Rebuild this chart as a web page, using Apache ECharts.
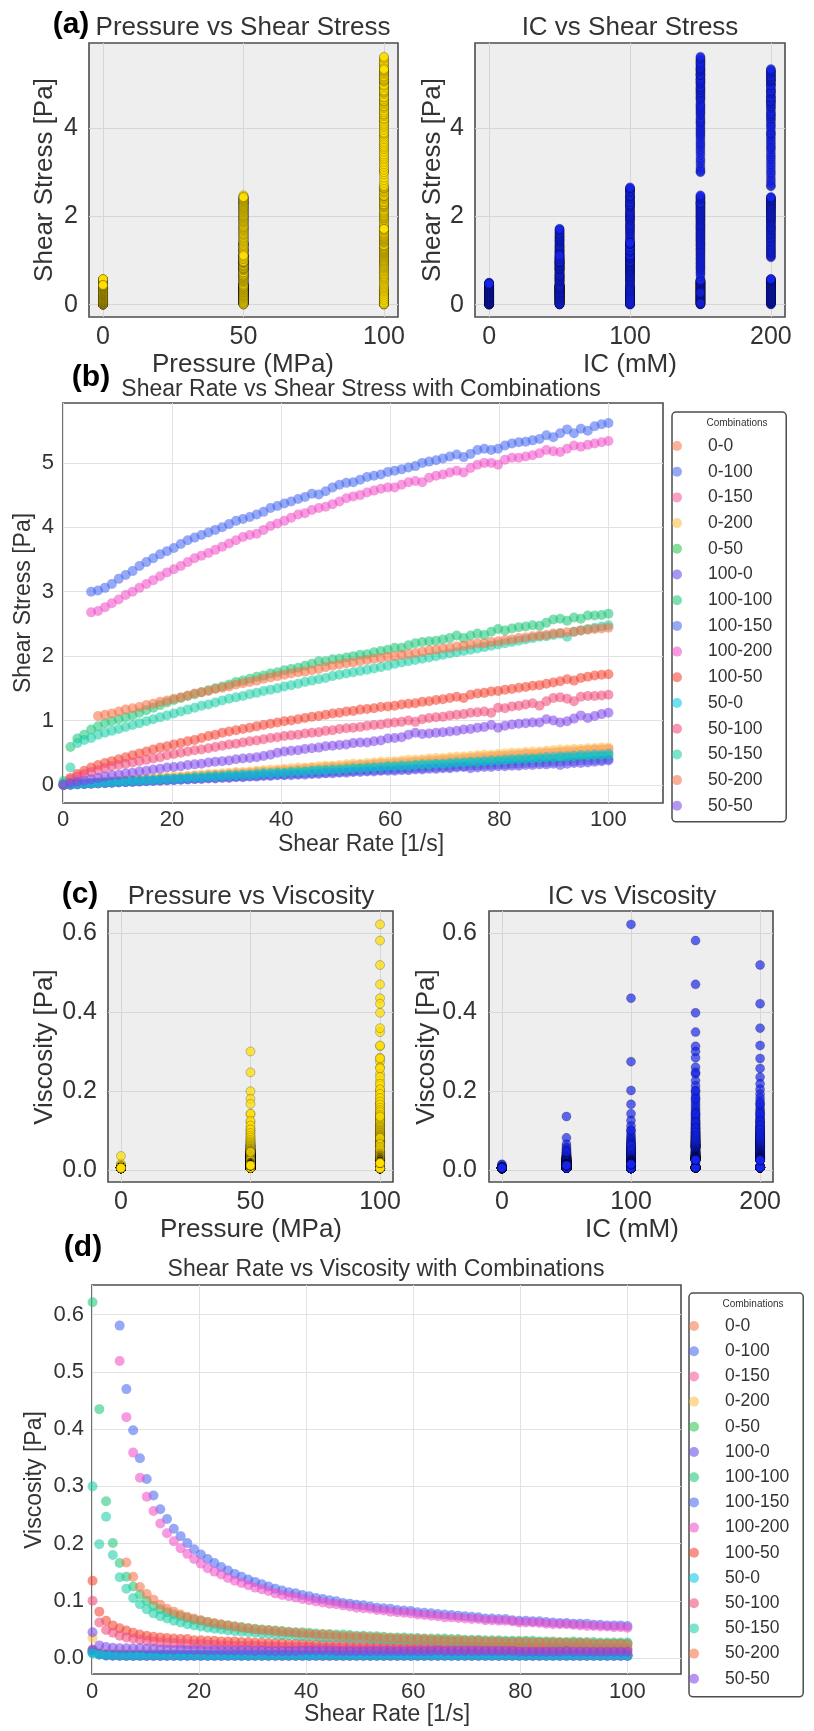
<!DOCTYPE html>
<html><head><meta charset="utf-8">
<script src="https://cdn.jsdelivr.net/npm/echarts@6/dist/echarts.min.js"></script>
<style>html,body{margin:0;padding:0;background:#fff}#c{width:814px;height:1731px}</style>
</head><body><div id="c"></div>
<script>
// ---------------- DATA ----------------
const combos = ['0-0','0-100','0-150','0-200','0-50','100-0','100-100','100-150','100-200','100-50','50-0','50-100','50-150','50-200','50-50'];
const pressureOf = [0,0,0,0,0,100,100,100,100,100,50,50,50,50,50];
const icOf = [0,100,150,200,50,0,100,150,200,50,0,100,150,200,50];
const shearRate = [
0.10,1.36,2.63,3.89,5.16,6.42,7.69,8.95,10.22,11.48,
12.75,14.01,15.28,16.54,17.80,19.07,20.33,21.60,22.86,24.13,
25.39,26.66,27.92,29.19,30.45,31.72,32.98,34.24,35.51,36.77,
38.04,39.30,40.57,41.83,43.10,44.36,45.63,46.89,48.15,49.42,
50.68,51.95,53.21,54.48,55.74,57.01,58.27,59.54,60.80,62.07,
63.33,64.59,65.86,67.12,68.39,69.65,70.92,72.18,73.45,74.71,
75.98,77.24,78.51,79.77,81.03,82.30,83.56,84.83,86.09,87.36,
88.62,89.89,91.15,92.42,93.68,94.94,96.21,97.47,98.74,100.00];
const xTicksP = [0,50,100];
const xTicksIC = [0,100,200];
const yTicksStressSmall = [0,2,4];
const yTicksVisSmall = [0,0.2,0.4,0.6];
const xTicksRate = [0,20,40,60,80,100];
const yTicksStress = [0,1,2,3,4,5];
const yTicksVis = [0,0.1,0.2,0.3,0.4,0.5,0.6];

// Shear stress [Pa]
const stress_0_0 = [
0.001,0.007,0.013,0.019,0.026,0.032,0.038,0.045,0.051,0.057,
0.064,0.070,0.076,0.083,0.089,0.095,0.10,0.11,0.11,0.12,
0.13,0.13,0.14,0.15,0.15,0.16,0.16,0.17,0.18,0.18,
0.19,0.20,0.20,0.21,0.22,0.22,0.23,0.23,0.24,0.25,
0.25,0.26,0.27,0.27,0.28,0.29,0.29,0.30,0.30,0.31,
0.32,0.32,0.33,0.34,0.34,0.35,0.35,0.36,0.37,0.37,
0.38,0.39,0.39,0.40,0.41,0.41,0.42,0.42,0.43,0.44,
0.44,0.45,0.46,0.46,0.47,0.47,0.48,0.49,0.49,0.50];
const stress_0_100 = [
0.001,0.005,0.011,0.016,0.021,0.026,0.031,0.036,0.041,0.046,
0.051,0.056,0.061,0.066,0.071,0.076,0.081,0.086,0.091,0.097,
0.10,0.11,0.11,0.12,0.12,0.13,0.13,0.14,0.14,0.15,
0.15,0.16,0.16,0.17,0.17,0.18,0.18,0.19,0.19,0.20,
0.20,0.21,0.21,0.22,0.22,0.23,0.23,0.24,0.24,0.25,
0.25,0.26,0.26,0.27,0.27,0.28,0.28,0.29,0.29,0.30,
0.30,0.31,0.31,0.32,0.32,0.33,0.33,0.34,0.34,0.35,
0.35,0.36,0.36,0.37,0.37,0.38,0.38,0.39,0.39,0.40];
const stress_0_150 = [
0.002,0.008,0.015,0.022,0.029,0.036,0.043,0.050,0.057,0.064,
0.071,0.078,0.086,0.093,0.10,0.11,0.11,0.12,0.13,0.14,
0.14,0.15,0.16,0.16,0.17,0.18,0.18,0.19,0.20,0.21,
0.21,0.22,0.23,0.23,0.24,0.25,0.26,0.26,0.27,0.28,
0.28,0.29,0.30,0.31,0.31,0.32,0.33,0.33,0.34,0.35,
0.35,0.36,0.37,0.38,0.38,0.39,0.40,0.40,0.41,0.42,
0.43,0.43,0.44,0.45,0.45,0.46,0.47,0.48,0.48,0.49,
0.50,0.50,0.51,0.52,0.52,0.53,0.54,0.55,0.55,0.56];
const stress_0_200 = [
0.004,0.012,0.020,0.028,0.035,0.043,0.050,0.058,0.066,0.073,
0.080,0.088,0.095,0.10,0.11,0.12,0.13,0.13,0.14,0.15,
0.16,0.17,0.17,0.18,0.19,0.20,0.20,0.21,0.22,0.23,
0.24,0.24,0.25,0.26,0.27,0.27,0.28,0.29,0.30,0.30,
0.31,0.32,0.33,0.33,0.34,0.35,0.36,0.36,0.37,0.38,
0.39,0.39,0.40,0.41,0.42,0.42,0.43,0.44,0.44,0.45,
0.46,0.47,0.47,0.48,0.49,0.50,0.50,0.51,0.52,0.52,
0.53,0.54,0.55,0.55,0.56,0.56,0.57,0.57,0.58,0.58];
const stress_0_50 = [
0.001,0.006,0.012,0.018,0.023,0.029,0.035,0.040,0.046,0.052,
0.057,0.063,0.069,0.074,0.080,0.086,0.091,0.097,0.10,0.11,
0.11,0.12,0.13,0.13,0.14,0.14,0.15,0.15,0.16,0.17,
0.17,0.18,0.18,0.19,0.19,0.20,0.21,0.21,0.22,0.22,
0.23,0.23,0.24,0.25,0.25,0.26,0.26,0.27,0.27,0.28,
0.28,0.29,0.30,0.30,0.31,0.31,0.32,0.32,0.33,0.34,
0.34,0.35,0.35,0.36,0.36,0.37,0.38,0.38,0.39,0.39,
0.40,0.40,0.41,0.42,0.42,0.43,0.43,0.44,0.44,0.45];
const stress_100_0 = [
0.001,0.005,0.010,0.014,0.019,0.024,0.028,0.033,0.038,0.042,
0.047,0.052,0.057,0.061,0.066,0.071,0.075,0.080,0.085,0.089,
0.094,0.099,0.10,0.11,0.11,0.12,0.12,0.13,0.13,0.14,
0.14,0.15,0.15,0.15,0.16,0.16,0.17,0.17,0.18,0.18,
0.19,0.19,0.20,0.20,0.21,0.21,0.22,0.22,0.22,0.23,
0.23,0.24,0.24,0.25,0.25,0.26,0.26,0.27,0.28,0.26,
0.27,0.28,0.28,0.29,0.29,0.30,0.30,0.31,0.31,0.32,
0.32,0.33,0.31,0.33,0.34,0.34,0.35,0.36,0.37,0.38];
const stress_100_100 = [
0.06,0.59,0.72,0.78,0.86,0.91,0.96,0.99,1.02,1.05,
1.08,1.12,1.16,1.20,1.24,1.28,1.32,1.35,1.38,1.41,
1.44,1.47,1.50,1.53,1.56,1.60,1.62,1.65,1.68,1.70,
1.73,1.75,1.78,1.80,1.82,1.85,1.88,1.92,1.92,1.95,
1.96,1.98,2.00,2.02,2.03,2.06,2.08,2.10,2.13,2.13,
2.17,2.20,2.22,2.23,2.24,2.26,2.28,2.32,2.28,2.32,
2.35,2.33,2.38,2.42,2.40,2.43,2.45,2.46,2.48,2.47,
2.52,2.57,2.58,2.55,2.60,2.58,2.63,2.63,2.64,2.66];
const stress_100_150 = [
null,null,null,null,3.00,3.02,3.06,3.12,3.20,3.26,
3.32,3.40,3.46,3.52,3.58,3.63,3.68,3.74,3.80,3.84,
3.88,3.92,3.96,4.00,4.05,4.10,4.13,4.16,4.20,4.24,
4.30,4.33,4.37,4.40,4.44,4.47,4.52,4.51,4.56,4.62,
4.66,4.69,4.70,4.74,4.78,4.80,4.82,4.86,4.88,4.90,
4.93,4.95,5.00,5.02,5.04,5.07,5.10,5.13,5.09,5.14,
5.20,5.22,5.20,5.22,5.27,5.30,5.32,5.33,5.35,5.37,
5.43,5.40,5.46,5.52,5.46,5.53,5.50,5.57,5.60,5.62];
const stress_100_200 = [
null,null,null,null,2.68,2.70,2.76,2.82,2.88,2.95,
3.00,3.06,3.12,3.18,3.24,3.30,3.35,3.40,3.46,3.52,
3.56,3.60,3.65,3.70,3.75,3.80,3.85,3.88,3.90,3.96,
4.02,4.06,4.10,4.15,4.20,4.22,4.27,4.30,4.32,4.36,
4.40,4.45,4.48,4.50,4.54,4.57,4.60,4.62,4.62,4.66,
4.70,4.72,4.70,4.77,4.80,4.82,4.85,4.88,4.85,4.92,
4.97,5.00,5.00,4.97,5.05,5.08,5.08,5.10,5.12,5.15,
5.20,5.18,5.17,5.22,5.27,5.25,5.28,5.30,5.32,5.34];
const stress_100_50 = [
0.01,0.11,0.17,0.22,0.27,0.31,0.34,0.37,0.40,0.43,
0.46,0.49,0.52,0.55,0.58,0.60,0.63,0.65,0.68,0.70,
0.73,0.76,0.78,0.81,0.83,0.85,0.87,0.89,0.91,0.93,
0.95,0.97,0.99,1.00,1.02,1.04,1.06,1.07,1.09,1.11,
1.12,1.14,1.15,1.17,1.18,1.19,1.21,1.22,1.23,1.25,
1.26,1.27,1.29,1.30,1.32,1.33,1.35,1.37,1.35,1.40,
1.42,1.43,1.45,1.46,1.48,1.49,1.51,1.52,1.54,1.55,
1.57,1.59,1.61,1.64,1.62,1.66,1.68,1.70,1.71,1.72];
const stress_50_0 = [
0.001,0.007,0.013,0.019,0.025,0.031,0.037,0.043,0.049,0.055,
0.061,0.067,0.073,0.079,0.085,0.092,0.098,0.10,0.11,0.12,
0.12,0.13,0.13,0.14,0.15,0.15,0.16,0.16,0.17,0.18,
0.18,0.19,0.19,0.20,0.21,0.21,0.22,0.23,0.23,0.24,
0.24,0.25,0.26,0.26,0.27,0.27,0.28,0.29,0.29,0.30,
0.30,0.31,0.32,0.32,0.33,0.33,0.34,0.35,0.35,0.36,
0.36,0.37,0.38,0.38,0.39,0.40,0.40,0.41,0.41,0.42,
0.43,0.43,0.44,0.44,0.45,0.46,0.46,0.47,0.47,0.48];
const stress_50_100 = [
0.01,0.085,0.13,0.17,0.20,0.23,0.26,0.29,0.31,0.33,
0.35,0.37,0.39,0.41,0.43,0.46,0.48,0.50,0.52,0.54,
0.55,0.57,0.59,0.61,0.63,0.64,0.66,0.68,0.69,0.71,
0.73,0.74,0.76,0.77,0.78,0.80,0.81,0.82,0.84,0.85,
0.87,0.88,0.89,0.90,0.92,0.93,0.94,0.96,0.97,0.98,
1.00,0.98,1.02,1.04,1.05,1.06,1.08,1.09,1.10,1.12,
1.13,1.14,1.12,1.20,1.19,1.22,1.23,1.25,1.27,1.23,
1.30,1.35,1.36,1.34,1.30,1.37,1.38,1.38,1.39,1.40];
const stress_50_150 = [
0.03,0.27,0.65,0.70,0.73,0.78,0.81,0.84,0.87,0.90,
0.93,0.96,0.99,1.02,1.05,1.08,1.11,1.14,1.17,1.20,
1.23,1.25,1.28,1.31,1.34,1.36,1.38,1.41,1.43,1.46,
1.48,1.50,1.53,1.55,1.57,1.60,1.62,1.64,1.66,1.69,
1.71,1.73,1.75,1.77,1.79,1.81,1.83,1.85,1.88,1.90,
1.92,1.94,1.96,1.98,2.00,2.02,2.04,2.06,2.08,2.10,
2.12,2.14,2.16,2.18,2.20,2.22,2.24,2.26,2.28,2.30,
2.31,2.33,2.35,2.30,2.38,2.40,2.42,2.44,2.46,2.48];
const stress_50_200 = [
null,null,null,null,null,1.07,1.09,1.11,1.14,1.17,
1.19,1.21,1.24,1.26,1.29,1.31,1.34,1.36,1.39,1.42,
1.44,1.46,1.49,1.51,1.53,1.56,1.58,1.60,1.62,1.65,
1.67,1.69,1.71,1.73,1.75,1.76,1.78,1.80,1.83,1.85,
1.87,1.89,1.90,1.92,1.94,1.96,1.97,1.99,2.00,2.02,
2.03,2.05,2.07,2.09,2.10,2.12,2.13,2.15,2.16,2.18,
2.20,2.20,2.22,2.23,2.25,2.26,2.28,2.29,2.31,2.32,
2.33,2.35,2.36,2.37,2.38,2.40,2.41,2.42,2.43,2.44];
const stress_50_50 = [
0.005,0.03,0.05,0.07,0.09,0.11,0.13,0.15,0.16,0.18,
0.19,0.21,0.22,0.24,0.25,0.27,0.28,0.29,0.31,0.32,
0.33,0.35,0.36,0.37,0.38,0.40,0.41,0.42,0.43,0.45,
0.47,0.50,0.52,0.53,0.54,0.56,0.57,0.58,0.60,0.61,
0.62,0.63,0.65,0.66,0.66,0.68,0.69,0.72,0.73,0.74,
0.78,0.81,0.79,0.80,0.81,0.82,0.83,0.84,0.86,0.87,
0.89,0.90,0.93,0.89,0.92,0.94,0.95,0.96,0.97,0.97,
1.02,1.00,0.97,0.99,1.03,1.08,1.04,1.07,1.10,1.12];

// Viscosity [Pa.s]
const visc_0_0 = [
0.012,0.007,0.006,0.0055,0.0052,0.0051,0.0050,0.0050,0.0050,0.0050,
0.0050,0.0050,0.0050,0.0050,0.0050,0.0050,0.0050,0.0050,0.0050,0.0050,
0.0050,0.0050,0.0050,0.0050,0.0050,0.0050,0.0050,0.0050,0.0050,0.0050,
0.0050,0.0050,0.0050,0.0050,0.0050,0.0050,0.0050,0.0050,0.0050,0.0050,
0.0050,0.0050,0.0050,0.0050,0.0050,0.0050,0.0050,0.0050,0.0050,0.0050,
0.0050,0.0050,0.0050,0.0050,0.0050,0.0050,0.0050,0.0050,0.0050,0.0050,
0.0050,0.0050,0.0050,0.0050,0.0050,0.0050,0.0050,0.0050,0.0050,0.0050,
0.0050,0.0050,0.0050,0.0050,0.0050,0.0050,0.0050,0.0050,0.0050,0.0050];
const visc_0_100 = [
0.009,0.006,0.0045,0.0042,0.0041,0.0040,0.0040,0.0040,0.0040,0.0040,
0.0040,0.0040,0.0040,0.0040,0.0040,0.0040,0.0040,0.0040,0.0040,0.0040,
0.0040,0.0040,0.0040,0.0040,0.0040,0.0040,0.0040,0.0040,0.0040,0.0040,
0.0040,0.0040,0.0040,0.0040,0.0040,0.0040,0.0040,0.0040,0.0040,0.0040,
0.0040,0.0040,0.0040,0.0040,0.0040,0.0040,0.0040,0.0040,0.0040,0.0040,
0.0040,0.0040,0.0040,0.0040,0.0040,0.0040,0.0040,0.0040,0.0040,0.0040,
0.0040,0.0040,0.0040,0.0040,0.0040,0.0040,0.0040,0.0040,0.0040,0.0040,
0.0040,0.0040,0.0040,0.0040,0.0040,0.0040,0.0040,0.0040,0.0040,0.0040];
const visc_0_150 = [
0.015,0.008,0.0065,0.0060,0.0058,0.0057,0.0057,0.0056,0.0056,0.0056,
0.0056,0.0056,0.0056,0.0056,0.0056,0.0056,0.0056,0.0056,0.0056,0.0056,
0.0056,0.0056,0.0056,0.0056,0.0056,0.0056,0.0056,0.0056,0.0056,0.0056,
0.0056,0.0056,0.0056,0.0056,0.0056,0.0056,0.0056,0.0056,0.0056,0.0056,
0.0056,0.0056,0.0056,0.0056,0.0056,0.0056,0.0056,0.0056,0.0056,0.0056,
0.0056,0.0056,0.0056,0.0056,0.0056,0.0056,0.0056,0.0056,0.0056,0.0056,
0.0056,0.0056,0.0056,0.0056,0.0056,0.0056,0.0056,0.0056,0.0056,0.0056,
0.0056,0.0056,0.0056,0.0056,0.0056,0.0056,0.0056,0.0056,0.0056,0.0056];
const visc_0_200 = [
0.035,0.009,0.0076,0.0072,0.0068,0.0067,0.0065,0.0065,0.0065,0.0064,
0.0063,0.0063,0.0062,0.0062,0.0062,0.0062,0.0062,0.0061,0.0061,0.0061,
0.0061,0.0061,0.0061,0.0061,0.0061,0.0061,0.0061,0.0061,0.0061,0.0061,
0.0060,0.0060,0.0060,0.0060,0.0060,0.0060,0.0060,0.0060,0.0060,0.0060,
0.0060,0.0060,0.0060,0.0060,0.0060,0.0060,0.0060,0.0060,0.0060,0.0060,
0.0059,0.0059,0.0059,0.0059,0.0059,0.0059,0.0059,0.0059,0.0059,0.0059,
0.0059,0.0059,0.0059,0.0059,0.0059,0.0059,0.0059,0.0059,0.0059,0.0059,
0.0058,0.0058,0.0058,0.0058,0.0058,0.0058,0.0058,0.0058,0.0058,0.0058];
const visc_0_50 = [
0.010,0.006,0.0050,0.0047,0.0046,0.0045,0.0045,0.0045,0.0045,0.0045,
0.0045,0.0045,0.0045,0.0045,0.0045,0.0045,0.0045,0.0045,0.0045,0.0045,
0.0045,0.0045,0.0045,0.0045,0.0045,0.0045,0.0045,0.0045,0.0045,0.0045,
0.0045,0.0045,0.0045,0.0045,0.0045,0.0045,0.0045,0.0045,0.0045,0.0045,
0.0045,0.0045,0.0045,0.0045,0.0045,0.0045,0.0045,0.0045,0.0045,0.0045,
0.0045,0.0045,0.0045,0.0045,0.0045,0.0045,0.0045,0.0045,0.0045,0.0045,
0.0045,0.0045,0.0045,0.0045,0.0045,0.0045,0.0045,0.0045,0.0045,0.0045,
0.0045,0.0045,0.0045,0.0045,0.0045,0.0045,0.0045,0.0045,0.0045,0.0045];
const visc_100_0 = [
0.014,0.007,0.0045,0.0040,0.0038,0.0037,0.0037,0.0037,0.0037,0.0037,
0.0037,0.0037,0.0037,0.0037,0.0037,0.0037,0.0037,0.0037,0.0037,0.0037,
0.0037,0.0037,0.0037,0.0037,0.0037,0.0037,0.0037,0.0037,0.0037,0.0037,
0.0037,0.0037,0.0037,0.0037,0.0037,0.0037,0.0037,0.0037,0.0037,0.0037,
0.0037,0.0037,0.0037,0.0037,0.0037,0.0037,0.0037,0.0037,0.0037,0.0037,
0.0037,0.0037,0.0037,0.0037,0.0037,0.0037,0.0037,0.0037,0.0037,0.0037,
0.0037,0.0037,0.0037,0.0037,0.0037,0.0037,0.0037,0.0037,0.0037,0.0037,
0.0037,0.0037,0.0037,0.0037,0.0037,0.0037,0.0037,0.0037,0.0037,0.0037];
const visc_100_100 = [
0.622,0.435,0.274,0.201,0.166,0.142,0.125,0.111,0.100,0.091,
0.085,0.080,0.076,0.073,0.070,0.067,0.065,0.063,0.060,0.058,
0.057,0.055,0.054,0.052,0.051,0.050,0.049,0.048,0.047,0.046,
0.045,0.045,0.044,0.043,0.042,0.042,0.041,0.041,0.040,0.039,
0.039,0.038,0.038,0.037,0.036,0.036,0.036,0.035,0.035,0.034,
0.034,0.034,0.034,0.033,0.033,0.032,0.032,0.032,0.031,0.031,
0.031,0.030,0.030,0.030,0.030,0.030,0.029,0.029,0.029,0.028,
0.028,0.029,0.028,0.028,0.028,0.027,0.027,0.027,0.027,0.027];
const visc_100_150 = [
null,null,null,null,0.581,0.470,0.398,0.349,0.313,0.284,
0.260,0.243,0.226,0.213,0.201,0.190,0.181,0.173,0.166,0.159,
0.153,0.147,0.142,0.137,0.133,0.129,0.125,0.121,0.118,0.115,
0.113,0.110,0.108,0.105,0.103,0.101,0.099,0.096,0.095,0.093,
0.092,0.090,0.088,0.087,0.086,0.084,0.083,0.082,0.080,0.079,
0.078,0.077,0.076,0.075,0.074,0.073,0.072,0.071,0.069,0.069,
0.068,0.068,0.066,0.065,0.065,0.064,0.064,0.063,0.062,0.061,
0.061,0.060,0.060,0.060,0.058,0.058,0.057,0.057,0.057,0.056];
const visc_100_200 = [
null,null,null,null,0.519,0.421,0.359,0.315,0.282,0.257,
0.235,0.218,0.204,0.192,0.182,0.173,0.165,0.157,0.151,0.146,
0.140,0.135,0.131,0.127,0.123,0.120,0.117,0.113,0.110,0.108,
0.106,0.103,0.101,0.099,0.097,0.095,0.094,0.092,0.090,0.088,
0.087,0.086,0.084,0.083,0.081,0.080,0.079,0.078,0.076,0.075,
0.074,0.073,0.071,0.071,0.070,0.069,0.068,0.068,0.066,0.066,
0.065,0.065,0.064,0.062,0.062,0.062,0.061,0.060,0.059,0.059,
0.059,0.058,0.057,0.056,0.056,0.055,0.055,0.054,0.054,0.053];
const visc_100_50 = [
0.135,0.081,0.065,0.057,0.052,0.048,0.044,0.041,0.039,0.037,
0.036,0.035,0.034,0.033,0.033,0.031,0.031,0.030,0.030,0.029,
0.029,0.029,0.028,0.028,0.027,0.027,0.026,0.026,0.026,0.025,
0.025,0.025,0.024,0.024,0.024,0.023,0.023,0.023,0.023,0.022,
0.022,0.022,0.022,0.021,0.021,0.021,0.021,0.020,0.020,0.020,
0.020,0.020,0.020,0.019,0.019,0.019,0.019,0.019,0.018,0.019,
0.019,0.019,0.018,0.018,0.018,0.018,0.018,0.018,0.018,0.018,
0.018,0.018,0.018,0.018,0.017,0.017,0.017,0.017,0.017,0.017];
const visc_50_0 = [
0.008,0.006,0.0052,0.0050,0.0049,0.0048,0.0048,0.0048,0.0048,0.0048,
0.0048,0.0048,0.0048,0.0048,0.0048,0.0048,0.0048,0.0048,0.0048,0.0048,
0.0048,0.0048,0.0048,0.0048,0.0048,0.0048,0.0048,0.0048,0.0048,0.0048,
0.0048,0.0048,0.0048,0.0048,0.0048,0.0048,0.0048,0.0048,0.0048,0.0048,
0.0048,0.0048,0.0048,0.0048,0.0048,0.0048,0.0048,0.0048,0.0048,0.0048,
0.0048,0.0048,0.0048,0.0048,0.0048,0.0048,0.0048,0.0048,0.0048,0.0048,
0.0048,0.0048,0.0048,0.0048,0.0048,0.0048,0.0048,0.0048,0.0048,0.0048,
0.0048,0.0048,0.0048,0.0048,0.0048,0.0048,0.0048,0.0048,0.0048,0.0048];
const visc_50_100 = [
0.100,0.062,0.049,0.044,0.039,0.036,0.034,0.032,0.030,0.029,
0.027,0.026,0.026,0.025,0.024,0.024,0.024,0.023,0.023,0.022,
0.022,0.021,0.021,0.021,0.021,0.020,0.020,0.020,0.019,0.019,
0.019,0.019,0.019,0.018,0.018,0.018,0.018,0.017,0.017,0.017,
0.017,0.017,0.017,0.017,0.017,0.016,0.016,0.016,0.016,0.016,
0.016,0.015,0.015,0.015,0.015,0.015,0.015,0.015,0.015,0.015,
0.015,0.015,0.014,0.015,0.015,0.015,0.015,0.015,0.015,0.014,
0.015,0.015,0.015,0.014,0.014,0.014,0.014,0.014,0.014,0.014];
const visc_50_150 = [
0.300,0.199,0.247,0.180,0.141,0.121,0.105,0.094,0.085,0.078,
0.073,0.069,0.065,0.062,0.059,0.057,0.055,0.053,0.051,0.050,
0.048,0.047,0.046,0.045,0.044,0.043,0.042,0.041,0.040,0.040,
0.039,0.038,0.038,0.037,0.036,0.036,0.036,0.035,0.034,0.034,
0.034,0.033,0.033,0.032,0.032,0.032,0.031,0.031,0.031,0.031,
0.030,0.030,0.030,0.029,0.029,0.029,0.029,0.029,0.028,0.028,
0.028,0.028,0.028,0.027,0.027,0.027,0.027,0.027,0.026,0.026,
0.026,0.026,0.026,0.025,0.025,0.025,0.025,0.025,0.025,0.025];
const visc_50_200 = [
null,null,null,null,null,0.167,0.142,0.124,0.112,0.102,
0.093,0.086,0.081,0.076,0.072,0.069,0.066,0.063,0.061,0.059,
0.057,0.055,0.053,0.052,0.050,0.049,0.048,0.047,0.046,0.045,
0.044,0.043,0.042,0.041,0.041,0.040,0.039,0.038,0.038,0.037,
0.037,0.036,0.036,0.035,0.035,0.034,0.034,0.033,0.033,0.033,
0.032,0.032,0.031,0.031,0.031,0.030,0.030,0.030,0.029,0.029,
0.029,0.028,0.028,0.028,0.028,0.027,0.027,0.027,0.027,0.027,
0.026,0.026,0.026,0.026,0.025,0.025,0.025,0.025,0.025,0.024];
const visc_50_50 = [
0.045,0.022,0.019,0.018,0.017,0.017,0.017,0.017,0.016,0.016,
0.015,0.015,0.014,0.015,0.014,0.014,0.014,0.013,0.014,0.013,
0.013,0.013,0.013,0.013,0.012,0.013,0.012,0.012,0.012,0.012,
0.012,0.013,0.013,0.013,0.013,0.013,0.012,0.012,0.012,0.012,
0.012,0.012,0.012,0.012,0.012,0.012,0.012,0.012,0.012,0.012,
0.012,0.013,0.012,0.012,0.012,0.012,0.012,0.012,0.012,0.012,
0.012,0.012,0.012,0.011,0.011,0.011,0.011,0.011,0.011,0.011,
0.012,0.011,0.011,0.011,0.011,0.011,0.011,0.011,0.011,0.011];

// ---------------- STYLE ----------------
const stressSets = [stress_0_0,stress_0_100,stress_0_150,stress_0_200,stress_0_50,stress_100_0,stress_100_100,stress_100_150,stress_100_200,stress_100_50,stress_50_0,stress_50_100,stress_50_150,stress_50_200,stress_50_50];
const viscSets = [visc_0_0,visc_0_100,visc_0_150,visc_0_200,visc_0_50,visc_100_0,visc_100_100,visc_100_150,visc_100_200,visc_100_50,visc_50_0,visc_50_100,visc_50_150,visc_50_200,visc_50_50];
const comboColors = ['rgba(246,119,74,0.7)','rgba(67,101,241,0.7)','rgba(241,88,154,0.7)','rgba(252,191,65,0.7)','rgba(44,196,82,0.7)','rgba(94,71,234,0.7)','rgba(26,198,118,0.7)','rgba(67,101,241,0.7)','rgba(241,76,199,0.7)','rgba(244,64,46,0.7)','rgba(0,199,228,0.7)','rgba(241,72,119,0.7)','rgba(25,205,165,0.7)','rgba(246,111,68,0.7)','rgba(125,68,234,0.7)'];
const FONT = '"Liberation Sans", Arial, Helvetica, sans-serif';
const TXT = '#333';

function catPoints(cats, sets) {
  const out = [];
  sets.forEach((arr, i) => arr.forEach(v => { if (v != null) out.push([cats[i], v]); }));
  return out;
}
function ratePoints(arr) {
  const out = [];
  arr.forEach((v, k) => { if (v != null) out.push([shearRate[k], v]); });
  return out;
}
function axis(gi, min, max, ticks, fs, margin, dec, gridColor) {
  return {
    type: 'value', gridIndex: gi, min: min, max: max,
    axisLine: {show: false},
    axisTick: {show: false, customValues: ticks},
    axisLabel: {customValues: ticks, fontSize: fs, color: TXT, fontFamily: FONT, margin: margin,
      formatter: v => dec ? Number(v).toFixed(dec) : String(v)},
    splitLine: {show: true, lineStyle: {color: gridColor, width: 1}}
  };
}
function gridBox(l, t, w, h, bg) {
  return {left: l, top: t, width: w, height: h, show: true, backgroundColor: bg, borderColor: '#4d4d4d', borderWidth: 1.6, containLabel: false};
}
function txt(x, y, s, size, o) {
  o = o || {};
  return {type: 'text', x: x, y: y, rotation: o.rot || 0, z: 200,
    style: {text: s, fontSize: size, fontFamily: FONT, fontWeight: o.bold ? 'bold' : 'normal',
      fill: o.color || TXT, align: 'center', verticalAlign: 'middle'}};
}

const GRAYBG = '#eeeeee', GRAYGRID = '#d6d6d6', WHITEGRID = '#e2e2e2';
const grids = [
  gridBox(89, 43, 309, 274, GRAYBG),
  gridBox(475, 43, 310, 274, GRAYBG),
  gridBox(63, 403, 600, 400, '#ffffff'),
  gridBox(108, 911, 285, 271, GRAYBG),
  gridBox(489, 911, 284, 271, GRAYBG),
  gridBox(92, 1285, 589, 389, '#ffffff')
];
const xAxes = [
  axis(0, -5, 105, xTicksP, 25, 8, 0, GRAYGRID),
  axis(1, -10, 210, xTicksIC, 25, 8, 0, GRAYGRID),
  axis(2, 0, 110, xTicksRate, 22, 6, 0, WHITEGRID),
  axis(3, -5, 105, xTicksP, 25, 8, 0, GRAYGRID),
  axis(4, -10, 210, xTicksIC, 25, 8, 0, GRAYGRID),
  axis(5, 0, 110, xTicksRate, 22, 7, 0, WHITEGRID)
];
const yAxes = [
  axis(0, -0.28, 5.93, yTicksStressSmall, 25, 11, 0, GRAYGRID),
  axis(1, -0.28, 5.93, yTicksStressSmall, 25, 11, 0, GRAYGRID),
  axis(2, -0.28, 5.93, yTicksStress, 22, 9, 0, WHITEGRID),
  axis(3, -0.031, 0.656, yTicksVisSmall, 25, 11, 1, GRAYGRID),
  axis(4, -0.031, 0.656, yTicksVisSmall, 25, 12, 1, GRAYGRID),
  axis(5, -0.028, 0.652, yTicksVis, 22, 8, 1, WHITEGRID)
];

const yellowStyle = {color: 'rgba(255,222,0,0.9)', borderColor: 'rgba(0,0,0,0.55)', borderWidth: 0.5};
const blueStyle = {color: 'rgba(20,35,235,0.85)', borderColor: 'rgba(0,0,0,0.55)', borderWidth: 0.5};
const series = [
  {type: 'scatter', name: 'P-stress', xAxisIndex: 0, yAxisIndex: 0, symbolSize: 9, itemStyle: yellowStyle, data: catPoints(pressureOf, stressSets)},
  {type: 'scatter', name: 'IC-stress', xAxisIndex: 1, yAxisIndex: 1, symbolSize: 9, itemStyle: blueStyle, data: catPoints(icOf, stressSets)},
  {type: 'scatter', name: 'P-visc', xAxisIndex: 3, yAxisIndex: 3, symbolSize: 9, itemStyle: yellowStyle, data: catPoints(pressureOf, viscSets)},
  {type: 'scatter', name: 'IC-visc', xAxisIndex: 4, yAxisIndex: 4, symbolSize: 9, itemStyle: blueStyle, data: catPoints(icOf, viscSets)}
];
combos.forEach((name, i) => {
  series.push({type: 'scatter', name: name, xAxisIndex: 2, yAxisIndex: 2, symbolSize: 10,
    itemStyle: {color: comboColors[i]}, data: ratePoints(stressSets[i])});
});
combos.forEach((name, i) => {
  series.push({type: 'scatter', name: name, xAxisIndex: 5, yAxisIndex: 5, symbolSize: 10,
    itemStyle: {color: comboColors[i]}, data: ratePoints(viscSets[i])});
});

function legendBox(left, top, pad, gap) {
  return {data: combos, orient: 'vertical', left: left, top: top, padding: pad,
    itemWidth: 52, itemHeight: 10, itemGap: gap, icon: 'circle', selectedMode: false,
    textStyle: {fontSize: 17.5, lineHeight: 18, color: TXT, fontFamily: FONT},
    borderColor: '#4d4d4d', borderWidth: 1.5, borderRadius: 4, backgroundColor: '#ffffff'};
}

const graphics = [
  txt(71, 25, '(a)', 30, {bold: true, color: '#000'}),
  txt(243, 28, 'Pressure vs Shear Stress', 26),
  txt(630, 28, 'IC vs Shear Stress', 26),
  txt(45, 180, 'Shear Stress [Pa]', 26, {rot: Math.PI / 2}),
  txt(433, 180, 'Shear Stress [Pa]', 26, {rot: Math.PI / 2}),
  txt(243, 365, 'Pressure (MPa)', 26),
  txt(630, 365, 'IC (mM)', 26),
  txt(91, 378, '(b)', 30, {bold: true, color: '#000'}),
  txt(361, 390, 'Shear Rate vs Shear Stress with Combinations', 23),
  txt(24, 603, 'Shear Stress [Pa]', 23, {rot: Math.PI / 2}),
  txt(361, 845, 'Shear Rate [1/s]', 23),
  txt(737, 423, 'Combinations', 10),
  txt(80, 895, '(c)', 30, {bold: true, color: '#000'}),
  txt(251, 897, 'Pressure vs Viscosity', 26),
  txt(632, 897, 'IC vs Viscosity', 26),
  txt(45, 1047, 'Viscosity [Pa]', 26, {rot: Math.PI / 2}),
  txt(427, 1047, 'Viscosity [Pa]', 26, {rot: Math.PI / 2}),
  txt(251, 1230, 'Pressure (MPa)', 26),
  txt(632, 1230, 'IC (mM)', 26),
  txt(83, 1248, '(d)', 30, {bold: true, color: '#000'}),
  txt(386, 1270, 'Shear Rate vs Viscosity with Combinations', 23),
  txt(35, 1480, 'Viscosity [Pa]', 23, {rot: Math.PI / 2}),
  txt(387, 1715, 'Shear Rate [1/s]', 23),
  txt(753, 1304, 'Combinations', 10)
];

const chart = echarts.init(document.getElementById('c'), null, {renderer: 'canvas'});
chart.setOption({
  backgroundColor: '#ffffff',
  animation: false,
  textStyle: {fontFamily: FONT},
  grid: grids,
  xAxis: xAxes,
  yAxis: yAxes,
  legend: [legendBox(672, 412, [25, 14, 7, 0], 7.7), legendBox(689, 1293, [24, 14, 9, 0], 7.2)],
  series: series,
  graphic: graphics
});
</script>
</body></html>
